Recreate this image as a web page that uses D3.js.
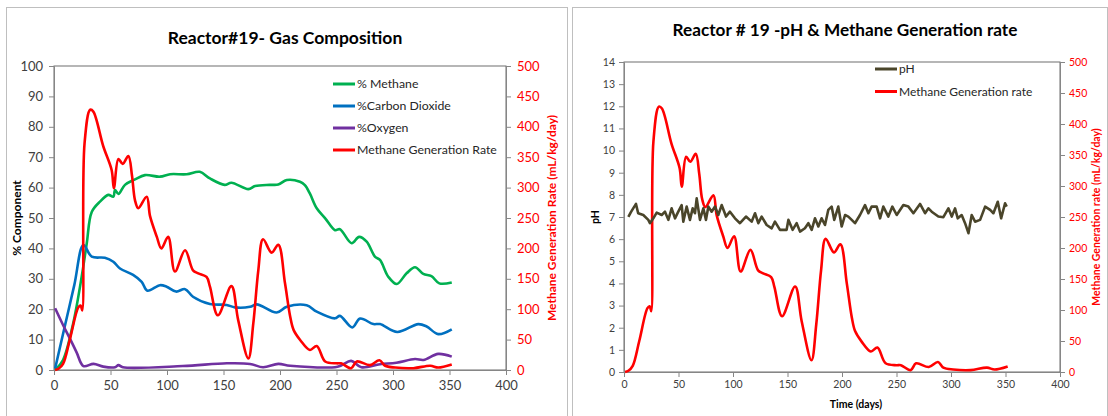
<!DOCTYPE html>
<html>
<head>
<meta charset="utf-8">
<script src="https://d3js.org/d3.v7.min.js"></script>
<style>
  body { margin: 0; background: #fff; }
  svg { font-family: Lato, "Open Sans", sans-serif; }
  .tick line { stroke: #868686; }
  .domain { stroke: #868686; }
</style>
</head>
<body>
<svg width="1108" height="416"></svg>
<script>
// ---- data ----
var methane = [[1,0],[8,3.3],[17,15.4],[24.5,30.7],[29,41.7],[33.4,52],[40.7,55.4],[48,57.6],[52.5,57],[54,59.2],[57,57.9],[62.8,60.9],[71.7,62.7],[80.5,64.1],[93.8,63.6],[102.7,64.4],[117.4,64.4],[129,65.2],[138,63],[151,60.9],[157,61.6],[172,59.5],[178,60.5],[191,60.9],[198.5,61],[206,62.5],[217.7,61.9],[222,60.8],[226.5,58],[232.5,53.2],[240,49.9],[248.7,46],[253,46.3],[263.4,41.7],[270,43.8],[276.7,42.2],[284,37.3],[288.5,36.2],[295.8,30.7],[303.3,28.3],[312,31.8],[319.5,33.8],[326.8,31.6],[334,30.9],[341,28.5],[352,28.8]];
var co2 = [[1,0.5],[9,13.5],[18,28],[26,41.1],[33.4,37.3],[45,36.9],[52.5,35.6],[58.4,33.4],[70,31.3],[77.6,29],[82.6,26.1],[93.8,27.9],[99.7,27.4],[108,25.8],[116,26.6],[123,24.1],[138,21.7],[152.8,21.4],[160,20.6],[173.5,20.8],[179.4,21.6],[197,18.9],[206,20.8],[223.6,21.3],[232.5,19.2],[248.7,17],[253,17.8],[264,14],[270.8,16.9],[282.6,15.1],[288.5,15.1],[303.8,12.5],[322.4,15.1],[329.8,14.3],[340,11.8],[352,13.4]];
var oxygen = [[1,20.3],[8,14.8],[14,10.4],[20,5.8],[26,1.3],[35,2],[43.6,1.1],[54,0.9],[57,1.6],[61,0.9],[114,1.3],[153,2.2],[173.5,2],[185,0.9],[198.5,2],[209,1.4],[251,1.1],[263,3],[272,0.9],[288.5,1.9],[303,2.4],[319.5,3.6],[327,3.3],[340,5.3],[352,4.4]];
var genRate = [[1,0],[4,2],[8,10],[14,50],[21.5,103],[23.6,106],[25,98],[27,372],[32,428],[34.8,425],[43.6,368],[51,329],[53,299],[57,347],[60.8,339],[65.8,352],[69,320],[71.7,279],[74.6,266],[82,285],[85,253],[91,219],[95,200],[101,219],[107,162],[116,197],[123,164],[127.7,159],[135,153],[138,137],[145,90],[157,138],[163,82],[172,19],[176.4,77],[180.8,164],[185,215],[192.6,193],[198.5,206],[204.4,143],[209,88],[212,66],[218,49],[226.5,33],[232.5,39.5],[240,14],[250,11],[254,11],[263,3],[268,14],[279.6,8],[288,16],[293,7],[302,4],[318,3],[333,7],[340,4],[352,9]];
var ph = [[4,7.01],[6.6,7.24],[11,7.59],[13,7.17],[17.7,7.09],[22.3,6.87],[23.8,6.72],[26.9,6.94],[30,7.2],[34.6,7.09],[37.6,7.24],[40.7,6.87],[43.7,7.39],[46.8,6.94],[49.8,7.24],[52.9,7.54],[54.4,6.79],[57.5,7.47],[60.5,6.87],[63,7.39],[65.1,7.17],[66.7,7.84],[69.7,6.87],[72.8,7.39],[75.2,6.87],[77.4,7.47],[80.4,7.24],[83.5,7.47],[86.5,7.09],[89.6,7.54],[93.6,7.02],[97.2,7.24],[101.8,6.94],[106.4,6.72],[111.9,7.02],[117.1,6.79],[120.2,7.17],[123.2,6.72],[126.3,7.02],[130.9,6.64],[135.5,6.49],[138.5,6.79],[143.1,6.42],[149.2,6.42],[150.8,6.87],[154.7,6.42],[158.4,6.72],[161.5,6.34],[166,6.49],[169.1,6.72],[172.2,6.42],[175.2,6.94],[178.3,6.57],[181.3,6.94],[184.4,6.64],[187.4,7.32],[190.5,7.47],[192.9,6.87],[196.6,7.47],[199.7,6.57],[202.8,7.09],[205.8,7.02],[208.9,6.87],[211.9,6.72],[216.5,7.09],[221.1,7.54],[224.2,7.17],[227.2,7.47],[231.8,7.47],[234.9,6.94],[237.9,7.47],[242.5,7.02],[246.2,7.47],[250.2,7.09],[256.3,7.54],[260.9,7.47],[265.5,7.17],[271.6,7.59],[276.2,7.17],[279.3,7.39],[282.3,7.24],[288.4,7.02],[293,6.99],[297.6,7.39],[300.7,7.02],[303.7,7.39],[306.2,6.94],[309.8,7.09],[312.9,6.72],[316,6.27],[319,7.09],[322.1,6.79],[326.7,6.87],[331.3,7.47],[335.9,7.32],[338.9,7.17],[342.9,7.69],[346,6.94],[349.6,7.62],[351.1,7.47]];

var dayTicks = [0, 50, 100, 150, 200, 250, 300, 350, 400];
var pctTicks = [0, 10, 20, 30, 40, 50, 60, 70, 80, 90, 100];
var rateTicks = [0, 50, 100, 150, 200, 250, 300, 350, 400, 450, 500];
var phTicks = [0, 1, 2, 3, 4, 5, 6, 7, 8, 9, 10, 11, 12, 13, 14];

var svg = d3.select("svg");

// chart frames
svg.append("rect").attr("x", 6.5).attr("y", 7.5).attr("width", 561).attr("height", 420)
  .attr("fill", "#fff").attr("stroke", "#bfbfbf");
svg.append("rect").attr("x", 572.5).attr("y", 7.5).attr("width", 535).attr("height", 420)
  .attr("fill", "#fff").attr("stroke", "#bfbfbf");

function drawChart(o) {
  var x = d3.scaleLinear().domain([0, 400]).range([o.left, o.right]);
  var yL = d3.scaleLinear().domain(o.leftDomain).range([o.bottom, o.top]);
  var yR = d3.scaleLinear().domain([0, 500]).range([o.bottom, o.top]);

  svg.append("rect").attr("x", o.left).attr("y", o.top)
    .attr("width", o.right - o.left).attr("height", o.bottom - o.top)
    .attr("fill", "none").attr("stroke", "#6e6e6e");

  var ax = svg.append("g").attr("transform", "translate(0," + o.bottom + ")")
    .call(d3.axisBottom(x).tickValues(dayTicks).tickSize(5).tickSizeOuter(0));
  var al = svg.append("g").attr("transform", "translate(" + o.left + ",0)")
    .call(d3.axisLeft(yL).tickValues(o.leftTicks).tickSize(5).tickSizeOuter(0));
  var ar = svg.append("g").attr("transform", "translate(" + o.right + ",0)")
    .call(d3.axisRight(yR).tickValues(rateTicks).tickSize(5).tickSizeOuter(0));

  [ax, al, ar].forEach(function(g) {
    g.attr("font-family", null).attr("font-size", null);
    g.selectAll("text").style("font-size", o.tickFont + "px").attr("fill", "#404040");
  });
  ax.selectAll("text").attr("dy", "0.71em").attr("y", o.xLabelGap);
  al.selectAll("text").attr("x", -o.yLabelGap);
  ar.selectAll("text").attr("x", o.yLabelGap).attr("fill", "#ff0000");

  svg.append("text").attr("x", o.titleX).attr("y", o.titleY)
    .attr("text-anchor", "middle").style("font-size", o.titleFont + "px")
    .style("font-weight", "bold").attr("fill", "#000").text(o.title);

  var mid = (o.top + o.bottom) / 2;
  svg.append("text").attr("transform", "translate(" + o.leftTitleX + "," + mid + ") rotate(-90)")
    .attr("text-anchor", "middle").style("font-size", o.axisFont + "px")
    .style("font-weight", "bold").attr("fill", "#000").text(o.leftTitle);
  svg.append("text").attr("transform", "translate(" + o.rightTitleX + "," + mid + ") rotate(-90)")
    .attr("text-anchor", "middle").style("font-size", o.axisFont + "px")
    .style("font-weight", "bold").attr("fill", "#ff0000").text(o.rightTitle);

  o.series.forEach(function(s) {
    var y = s.axis === "right" ? yR : yL;
    var line = d3.line()
      .x(function(d) { return x(d[0]); })
      .y(function(d) { return y(d[1]); })
      .curve(s.smooth ? d3.curveCatmullRom.alpha(0.5) : d3.curveLinear);
    svg.append("path").datum(s.data).attr("d", line)
      .attr("fill", "none").attr("stroke", s.color).attr("stroke-width", s.width)
      .attr("stroke-linejoin", "round");
  });

  var leg = svg.append("g");
  o.series.slice().sort(function(a, b) { return a.order - b.order; }).forEach(function(s, i) {
    var ly = o.legY + i * o.legStep;
    leg.append("line").attr("x1", o.legX).attr("x2", o.legX + 22).attr("y1", ly).attr("y2", ly)
      .attr("stroke", s.color).attr("stroke-width", 3);
    leg.append("text").attr("x", o.legX + 24).attr("y", ly).attr("dy", "0.35em")
      .style("font-size", o.legFont + "px").attr("fill", "#262626").text(s.name);
  });

  if (o.xTitle) {
    svg.append("text").attr("x", (o.left + o.right) / 2 + 14).attr("y", o.xTitleY)
      .attr("text-anchor", "middle").style("font-size", o.axisFont + "px")
      .style("font-weight", "bold").attr("fill", "#000").text(o.xTitle);
  }
}

drawChart({
  left: 54, right: 506, top: 66, bottom: 370,
  leftDomain: [0, 100], leftTicks: pctTicks,
  tickFont: 13, xLabelGap: 11, yLabelGap: 11,
  title: "Reactor#19- Gas Composition", titleX: 285, titleY: 44, titleFont: 17.5,
  leftTitle: "% Component", leftTitleX: 21, rightTitle: "Methane Generation Rate (mL/kg/day)",
  rightTitleX: 556, axisFont: 12,
  legX: 333, legY: 84, legStep: 22, legFont: 12.3,
  series: [
    { name: "% Methane", data: methane, color: "#00b050", width: 2.6, smooth: true, order: 0 },
    { name: "%Carbon Dioxide", data: co2, color: "#0070c0", width: 2.6, smooth: true, order: 1 },
    { name: "%Oxygen", data: oxygen, color: "#7030a0", width: 2.6, smooth: true, order: 2 },
    { name: "Methane Generation Rate", data: genRate, color: "#ff0000", width: 2.6, smooth: true, axis: "right", order: 3 }
  ]
});

drawChart({
  left: 624, right: 1060, top: 62, bottom: 372,
  leftDomain: [0, 14], leftTicks: phTicks,
  tickFont: 10.5, xLabelGap: 9, yLabelGap: 9,
  title: "Reactor # 19 -pH & Methane Generation rate", titleX: 845, titleY: 36, titleFont: 17.2,
  leftTitle: "pH", leftTitleX: 599, rightTitle: "Methane Generation rate (mL/kg/day)",
  rightTitleX: 1100, axisFont: 10.5,
  xTitle: "Time (days)", xTitleY: 408,
  legX: 875, legY: 69, legStep: 22.5, legFont: 12,
  series: [
    { name: "Methane Generation rate", data: genRate, color: "#ff0000", width: 2.6, smooth: true, axis: "right", order: 1 },
    { name: "pH", data: ph, color: "#4a452a", width: 2.6, smooth: false, order: 0 }
  ]
});
</script>
</body>
</html>
